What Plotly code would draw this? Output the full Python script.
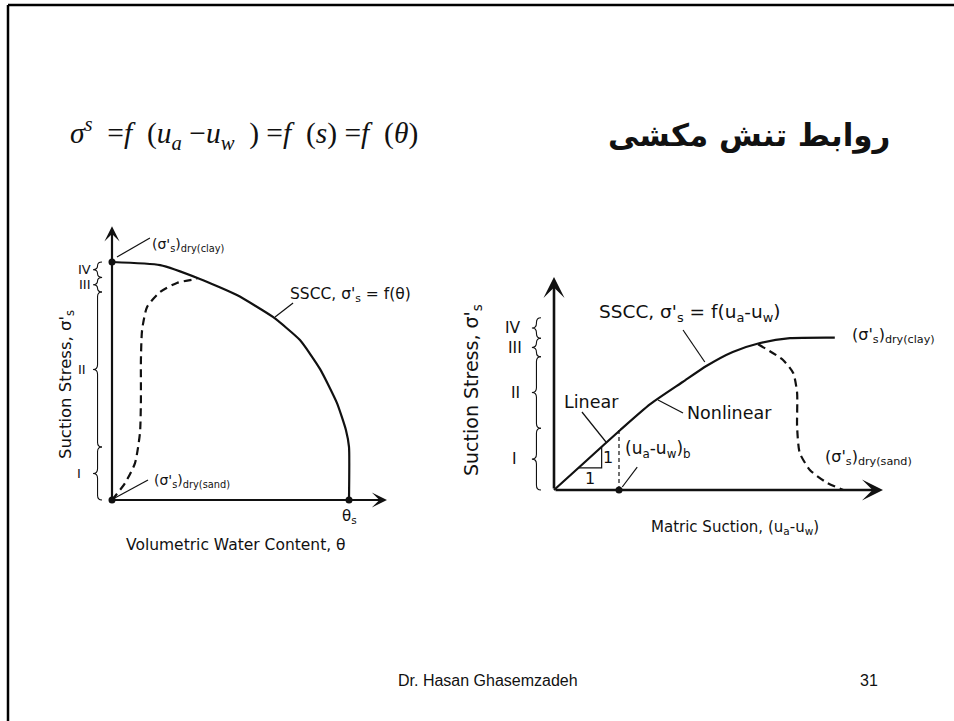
import plotly.graph_objects as go

# ---------------- data ----------------
# Left diagram: suction stress characteristic curve vs volumetric water content
# (theta normalised by theta_s, suction stress normalised by its dry-clay value)
theta_sscc = [0.0, 0.203, 0.371, 0.527, 0.679, 0.793, 0.878, 0.949, 0.987, 1.0, 1.0]
sigma_sscc_theta = [1.0, 0.987, 0.929, 0.861, 0.769, 0.672, 0.550, 0.408, 0.294, 0.223, 0.0]
theta_sand = [0.0, 0.055, 0.097, 0.118, 0.122, 0.122, 0.127, 0.148, 0.203, 0.274, 0.359]
sigma_sand_theta = [0.0, 0.071, 0.155, 0.282, 0.420, 0.588, 0.714, 0.811, 0.874, 0.912, 0.929]
theta_points = [0.0, 0.0, 1.0]          # dry sand, dry clay, theta_s
sigma_points_theta = [0.0, 1.0, 0.0]

# Right diagram: suction stress vs matric suction (units of (ua-uw)_b)
suction_sscc = [0.0, 0.51, 1.02, 1.48, 1.98, 2.35, 2.75, 3.17, 3.63, 4.32]
sigma_sscc_s = [0.0, 0.50, 1.00, 1.43, 1.80, 2.07, 2.30, 2.45, 2.53, 2.54]
suction_sand = [3.14, 3.52, 3.68, 3.74, 3.74, 3.78, 3.94, 4.20, 4.45]
sigma_sand_s = [2.43, 2.17, 1.95, 1.62, 1.05, 0.62, 0.33, 0.12, 0.0]
suction_b = 1.0
sigma_b = 1.0

# regime spans (roman numeral, lower, upper) on each suction-stress axis
zones_left = [("IV", 0.935, 1.0), ("III", 0.874, 0.935), ("II", 0.223, 0.874), ("I", 0.0, 0.223)]
zones_right = [("IV", 2.53, 2.87), ("III", 2.22, 2.53), ("II", 1.03, 2.22), ("I", 0.0, 1.03)]

# ---------------- layout geometry ----------------
W, H = 954, 721
INK = "#111111"
SANS = "DejaVu Sans, Arial, sans-serif"

# left panel: origin pixel, pixels per unit, axis ranges
L_O = (112, 500); L_K = (237, 238); L_XR = [-0.45, 1.3]; L_YR = [-0.35, 1.2]
# right panel
R_O = (554, 490); R_K = (65, 60); R_XR = [-1.8, 6.0]; R_YR = [-0.8, 3.7]


def xdom(o, k, r):
    return [(o[0] + r[0] * k[0]) / W, (o[0] + r[1] * k[0]) / W]


def ydom(o, k, r):
    return [1 - (o[1] - r[0] * k[1]) / H, 1 - (o[1] - r[1] * k[1]) / H]


fig = go.Figure()

line_solid = dict(color=INK, width=2.2)
line_dash = dict(color=INK, width=2.2, dash="8px,5px")

# left curves
fig.add_trace(go.Scatter(x=theta_sscc, y=sigma_sscc_theta, mode="lines",
                         line=dict(**line_solid, shape="spline", smoothing=0.5),
                         xaxis="x", yaxis="y"))
fig.add_trace(go.Scatter(x=theta_sand, y=sigma_sand_theta, mode="lines",
                         line=dict(**line_dash, shape="spline", smoothing=0.6),
                         xaxis="x", yaxis="y"))
fig.add_trace(go.Scatter(x=theta_points, y=sigma_points_theta, mode="markers",
                         marker=dict(color=INK, size=7), xaxis="x", yaxis="y"))

# right curves
fig.add_trace(go.Scatter(x=suction_sscc, y=sigma_sscc_s, mode="lines",
                         line=dict(**line_solid, shape="spline", smoothing=0.6),
                         xaxis="x2", yaxis="y2"))
fig.add_trace(go.Scatter(x=suction_sand, y=sigma_sand_s, mode="lines",
                         line=dict(**line_dash, shape="spline", smoothing=0.6),
                         xaxis="x2", yaxis="y2"))
fig.add_trace(go.Scatter(x=[suction_b, suction_b], y=[0, sigma_b], mode="lines",
                         line=dict(color=INK, width=1.2, dash="4px,3px"),
                         xaxis="x2", yaxis="y2"))
fig.add_trace(go.Scatter(x=[suction_b], y=[0], mode="markers",
                         marker=dict(color=INK, size=7), xaxis="x2", yaxis="y2"))
# 1:1 slope triangle under the linear branch
fig.add_trace(go.Scatter(x=[0.37, 0.733, 0.733], y=[0.37, 0.37, 0.72], mode="lines",
                         line=dict(color=INK, width=1.2), xaxis="x2", yaxis="y2"))

shapes = []
annotations = []


def seg(xr, yr, x0, y0, x1, y1, w=1.2):
    shapes.append(dict(type="line", xref=xr, yref=yr, x0=x0, y0=y0, x1=x1, y1=y1,
                       line=dict(color=INK, width=w)))


def brace(xr, yr, xback, xtip, y0, y1, r):
    xm = (xback + xtip) / 2
    mid = (y0 + y1) / 2
    r = min(r, abs(y1 - y0) / 4)
    p = (f"M{xback},{y0} Q{xm},{y0} {xm},{y0 + r} L{xm},{mid - r} "
         f"Q{xm},{mid} {xtip},{mid} Q{xm},{mid} {xm},{mid + r} "
         f"L{xm},{y1 - r} Q{xm},{y1} {xback},{y1}")
    shapes.append(dict(type="path", xref=xr, yref=yr, path=p,
                       line=dict(color=INK, width=1.1)))


def text(xr, yr, x, y, s, size=15, xa="center", ya="middle", font=SANS, angle=0, **kw):
    annotations.append(dict(xref=xr, yref=yr, x=x, y=y, text=s, showarrow=False,
                            xanchor=xa, yanchor=ya, textangle=angle,
                            font=dict(family=font, size=size, color=INK, **kw)))


def axis_arrow(xr, yr, x0, y0, x1, y1, w, size):
    annotations.append(dict(xref=xr, yref=yr, axref=xr, ayref=yr, x=x1, y=y1, ax=x0, ay=y0,
                            text="", showarrow=True, arrowhead=3, arrowwidth=w,
                            arrowsize=size, arrowcolor=INK))


# ---- left panel decorations ----
axis_arrow("x", "y", 0, 0, 0, 1.15, 2.2, 1.15)
axis_arrow("x", "y", 0, 0, (387 - 112) / 237, 0, 2.2, 1.15)
for lab, lo, hi in zones_left:
    brace("x", "y", -0.042, -0.08, lo, hi, 0.02)
zone_x_left = {"IV": -0.118, "III": -0.115, "II": -0.125, "I": -0.141}
for lab, lo, hi in zones_left:
    text("x", "y", zone_x_left[lab], (lo + hi) / 2, lab, size=13)
seg("x", "y", 0.021, 1.021, 0.160, 1.101)
seg("x", "y", 0.004, 0.004, 0.152, 0.084)
seg("x", "y", 0.688, 0.769, 0.764, 0.828)
text("x", "y", 0.16, 1.072, "(σ'<sub>s</sub>)<sub>dry(clay)</sub>", size=14, xa="left")
text("x", "y", 0.17, 0.078, "(σ'<sub>s</sub>)<sub>dry(sand)</sub>", size=14, xa="left")
text("x", "y", 0.743, 0.861, "SSCC, σ'<sub>s</sub> = f(θ)", size=15.5, xa="left")
text("x", "y", 1.004, -0.068, "θ<sub>s</sub>", size=15)
text("x", "y", 0.523, -0.189, "Volumetric Water Content, θ", size=15.5)
text("x", "y", -0.194, 0.483, "Suction Stress, σ'<sub>s</sub>", size=16.5, angle=-90)

# ---- right panel decorations ----
axis_arrow("x2", "y2", 0, 0, 0, (490 - 277) / 60, 2.6, 1.35)
axis_arrow("x2", "y2", 0, 0, (883 - 554) / 65, 0, 2.6, 1.35)
for lab, lo, hi in zones_right:
    brace("x2", "y2", -0.2, -0.34, lo, hi, 0.08)
zone_x_right = {"IV": -0.63, "III": -0.6, "II": -0.6, "I": -0.615}
for lab, lo, hi in zones_right:
    text("x2", "y2", zone_x_right[lab], (lo + hi) / 2, lab, size=15.5)
seg("x2", "y2", 0.43, 1.3, 0.8, 0.8)
seg("x2", "y2", 1.6, 1.5, 1.985, 1.283)
seg("x2", "y2", 1.05, 0.05, 1.28, 0.38)
seg("x2", "y2", 1.985, 2.667, 2.32, 2.133)
text("x2", "y2", 0.554, 0.2, "1", size=16)
text("x2", "y2", 0.83, 0.54, "1", size=16)
text("x2", "y2", 0.12, 1.47, "Linear", size=17.5, xa="left")
text("x2", "y2", 2.01, 1.28, "Nonlinear", size=17.5, xa="left")
text("x2", "y2", 1.06, 0.67, "(u<sub>a</sub>-u<sub>w</sub>)<sub>b</sub>", size=17, xa="left")
text("x2", "y2", 0.66, 2.95, "SSCC, σ'<sub>s</sub> = f(u<sub>a</sub>-u<sub>w</sub>)", size=18.5, xa="left")
text("x2", "y2", 4.55, 2.58, "(σ'<sub>s</sub>)<sub>dry(clay)</sub>", size=16, xa="left")
text("x2", "y2", 4.14, 0.55, "(σ'<sub>s</sub>)<sub>dry(sand)</sub>", size=16, xa="left")
text("x2", "y2", 2.792, -0.617, "Matric Suction, (u<sub>a</sub>-u<sub>w</sub>)", size=15)
text("x2", "y2", -1.246, 1.667, "Suction Stress, σ'<sub>s</sub>", size=19, angle=-90)

# ---- page texts ----
SERIF = "Liberation Serif, Times New Roman, serif"
NB = "&nbsp;"
formula = (f"<i>σ</i><sup><i>s</i></sup>{NB}{NB}=<i>f</i>{NB}{NB}(<i>u<sub>a</sub></i>{NB}−<i>u<sub>w</sub></i>{NB}{NB})"
           f"{NB}=<i>f</i>{NB}{NB}(<i>s</i>){NB}=<i>f</i>{NB}{NB}(<i>θ</i>)")
text("paper", "paper", 68 / W, 1 - 133 / H, formula, size=29.5, xa="left", font=SERIF)
text("paper", "paper", 892 / W, 1 - 135 / H, "روابط تنش مکشی", size=31, xa="right",
     font="DejaVu Sans, sans-serif", weight="bold")
text("paper", "paper", 488 / W, 1 - 680 / H, "Dr. Hasan Ghasemzadeh", size=16,
     font="Liberation Sans, Arial, sans-serif")
text("paper", "paper", 869 / W, 1 - 680 / H, "31", size=16,
     font="Liberation Sans, Arial, sans-serif")

# slide frame
shapes.append(dict(type="line", xref="paper", yref="paper", x0=8 / W, y0=1 - 5 / H, x1=1, y1=1 - 5 / H,
                   line=dict(color="#000", width=2.5)))
shapes.append(dict(type="line", xref="paper", yref="paper", x0=8 / W, y0=1 - 5 / H, x1=8 / W, y1=0,
                   line=dict(color="#000", width=2.5)))

hidden = dict(visible=False, showgrid=False, zeroline=False, fixedrange=True)
fig.update_layout(
    width=W, height=H, margin=dict(l=0, r=0, t=0, b=0),
    paper_bgcolor="white", plot_bgcolor="white", showlegend=False,
    xaxis=dict(domain=xdom(L_O, L_K, L_XR), range=L_XR, anchor="y", **hidden),
    yaxis=dict(domain=ydom(L_O, L_K, L_YR), range=L_YR, anchor="x", **hidden),
    xaxis2=dict(domain=xdom(R_O, R_K, R_XR), range=R_XR, anchor="y2", **hidden),
    yaxis2=dict(domain=ydom(R_O, R_K, R_YR), range=R_YR, anchor="x2", **hidden),
    shapes=shapes, annotations=annotations,
)

fig.write_html("out.html")
